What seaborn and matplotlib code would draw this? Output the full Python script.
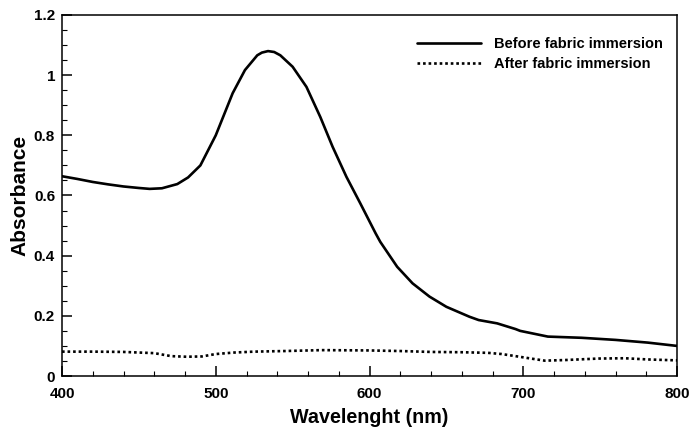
import numpy as np
import pandas as pd
import matplotlib
matplotlib.use("Agg")
import matplotlib.pyplot as plt
import seaborn as sns
from matplotlib.ticker import MultipleLocator, FormatStrFormatter

# values
before_wl = [400, 410, 420, 430, 440, 450, 457, 465, 475, 482, 490, 495, 500,
             511, 519, 527, 530, 534, 538, 542, 550, 559, 568, 576, 585, 594,
             604, 607, 618, 628, 639, 650, 665, 671, 683, 695, 698, 716, 738,
             760, 781, 800]
before_abs = [0.664, 0.655, 0.645, 0.637, 0.630, 0.625, 0.622, 0.624, 0.638,
              0.660, 0.700, 0.750, 0.800, 0.940, 1.017, 1.066, 1.075, 1.080,
              1.077, 1.066, 1.028, 0.961, 0.861, 0.762, 0.662, 0.574, 0.474,
              0.446, 0.363, 0.308, 0.264, 0.230, 0.197, 0.186, 0.175, 0.156,
              0.150, 0.131, 0.127, 0.120, 0.111, 0.100]

after_wl = [400, 420, 440, 460, 471, 481, 491, 500, 512, 525, 545, 569, 599,
            620, 640, 660, 677, 686, 695, 705, 714, 727, 749, 766, 781, 800]
after_abs = [0.081, 0.081, 0.080, 0.076, 0.066, 0.064, 0.065, 0.073, 0.078,
             0.081, 0.083, 0.086, 0.085, 0.083, 0.080, 0.079, 0.077, 0.073,
             0.066, 0.058, 0.051, 0.053, 0.058, 0.059, 0.055, 0.052]

labels = ["Before fabric immersion", "After fabric immersion"]

sns.set_style("ticks")
plt.rcParams['font.family'] = ['Liberation Sans', 'DejaVu Sans']
plt.rcParams['font.weight'] = 'bold'
plt.rcParams['text.color'] = 'black'
plt.rcParams['axes.labelcolor'] = 'black'
plt.rcParams['xtick.color'] = 'black'
plt.rcParams['ytick.color'] = 'black'

df_before = pd.DataFrame({"Wavelength": before_wl, "Absorbance": before_abs})
df_after = pd.DataFrame({"Wavelength": after_wl, "Absorbance": after_abs})

fig = plt.figure(figsize=(6.93, 4.34), dpi=100)
ax = fig.add_axes([62/693, 1 - 376/434, 615/693, 361/434])

sns.lineplot(data=df_before, x="Wavelength", y="Absorbance", ax=ax,
             color="black", linewidth=1.9, label=labels[0])
sns.lineplot(data=df_after, x="Wavelength", y="Absorbance", ax=ax,
             color="black", linewidth=1.9, linestyle=(0, (1, 1.1)),
             label=labels[1])

ax.set_xlim(400, 800)
ax.set_ylim(0, 1.2)
ax.xaxis.set_major_locator(MultipleLocator(100))
ax.xaxis.set_minor_locator(MultipleLocator(20))
ax.yaxis.set_major_locator(MultipleLocator(0.2))
ax.yaxis.set_minor_locator(MultipleLocator(0.05))
ax.yaxis.set_major_formatter(FormatStrFormatter('%g'))

ax.tick_params(which='major', direction='in', length=7, width=1.1,
               labelsize=11, top=False, right=False)
ax.tick_params(axis='x', which='major', pad=8)
ax.tick_params(axis='y', which='major', pad=5)
ax.tick_params(which='minor', direction='in', length=3.5, width=0.8,
               top=False, right=False)
for lab in ax.get_xticklabels() + ax.get_yticklabels():
    lab.set_fontweight('bold')

for sp in ax.spines.values():
    sp.set_visible(True)
    sp.set_linewidth(1.1)
    sp.set_color("black")

ax.set_xlabel("Wavelenght (nm)", fontsize=14.2, fontweight='bold', labelpad=5)
ax.set_ylabel("Absorbance", fontsize=15, fontweight='bold', labelpad=3)

leg = ax.legend(loc='upper right', bbox_to_anchor=(1.013, 1.0),
                frameon=False, handlelength=4.4,
                prop={'weight': 'bold', 'size': 10.5}, borderaxespad=1.1,
                labelspacing=0.45, handletextpad=0.9)

fig.savefig("out.png", dpi=100)
